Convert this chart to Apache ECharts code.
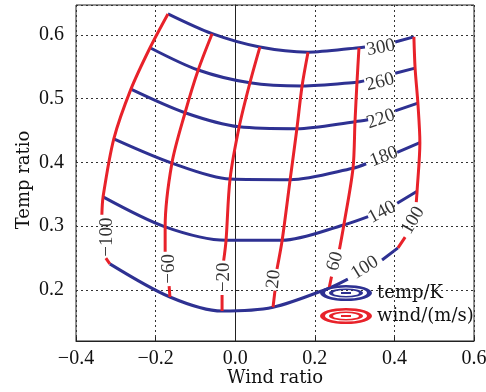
<!DOCTYPE html>
<html>
<head>
<meta charset="utf-8">
<script src="https://cdn.jsdelivr.net/npm/echarts@6/dist/echarts.min.js"></script>
<style>
  html, body { margin: 0; padding: 0; background: #fff; }
  #chart { width: 486px; height: 392px; }
</style>
</head>
<body>
<div id="chart"></div>
<script>
// temperature contours (K): [wind ratio, temp ratio], null = gap for the inline label
let temp300 = [[-0.169, 0.633], [-0.058, 0.602], [0.062, 0.581], [0.183, 0.573], [0.311, 0.580], [0.326, 0.581], null, [0.402, 0.589], [0.449, 0.597]];
let temp260 = [[-0.214, 0.580], [-0.093, 0.545], [0.037, 0.525], [0.168, 0.520], [0.306, 0.526], [0.324, 0.528], null, [0.402, 0.540], [0.452, 0.548]];
let temp220 = [[-0.262, 0.515], [-0.126, 0.478], [0.010, 0.456], [0.155, 0.453], [0.301, 0.464], [0.334, 0.467], null, [0.402, 0.481], [0.459, 0.493]];
let temp180 = [[-0.305, 0.437], [-0.159, 0.399], [-0.013, 0.374], [0.138, 0.373], [0.296, 0.391], [0.329, 0.398], null, [0.407, 0.416], [0.464, 0.431]];
let temp140 = [[-0.332, 0.346], [-0.176, 0.299], [-0.023, 0.278], [0.118, 0.278], [0.273, 0.302], [0.334, 0.315], null, [0.407, 0.336], [0.457, 0.355]];
let temp100 = [[-0.315, 0.241], [-0.164, 0.189], [-0.033, 0.167], [0.095, 0.173], [0.236, 0.203], [0.283, 0.217], null, [0.369, 0.247], [0.409, 0.266]];

// wind contours (m/s)
let windM100 = [[-0.169, 0.633], [-0.214, 0.580], [-0.262, 0.515], [-0.305, 0.437], [-0.332, 0.346], [-0.335, 0.318], null, [-0.325, 0.250], [-0.315, 0.241]];
let windM60 = [[-0.058, 0.602], [-0.093, 0.545], [-0.126, 0.478], [-0.159, 0.399], [-0.176, 0.299], [-0.176, 0.260], null, [-0.166, 0.206], [-0.164, 0.189]];
let windM20 = [[0.062, 0.581], [0.037, 0.525], [0.010, 0.456], [-0.013, 0.374], [-0.023, 0.278], [-0.029, 0.246], null, [-0.033, 0.192], [-0.033, 0.167]];
let windP20 = [[0.183, 0.573], [0.168, 0.520], [0.155, 0.453], [0.138, 0.373], [0.118, 0.278], [0.105, 0.233], null, [0.100, 0.199], [0.095, 0.173]];
let windP60 = [[0.311, 0.580], [0.306, 0.526], [0.301, 0.464], [0.296, 0.391], [0.273, 0.302], [0.262, 0.264], null, [0.242, 0.221], [0.236, 0.203]];
let windP100 = [[0.449, 0.597], [0.452, 0.548], [0.459, 0.493], [0.464, 0.431], [0.457, 0.355], [0.455, 0.338], null, [0.427, 0.283], [0.409, 0.266]];

// contour labels
let tempLevels = ["300", "260", "220", "180", "140", "100"];
let tempLabelAt = [[0.366, 0.580], [0.364, 0.526], [0.366, 0.468], [0.374, 0.409], [0.369, 0.322], [0.326, 0.235]];
let windLevels = ["−100", "−60", "−20", "20", "60", "100"];
let windLabelAt = [[-0.322, 0.283], [-0.166, 0.233], [-0.028, 0.220], [0.097, 0.217], [0.251, 0.245], [0.447, 0.309]];

let BLUE = "#2e3192";
let RED = "#e8222a";
let SERIF = "Liberation Serif";
let tempAngle = [11, 14, 19, 21, 28, 32];
let windAngle = [90, 90, 90, 84, 74, 60];

let ring = "path://M0,8 A26,8 0 1,1 52,8 A26,8 0 1,1 0,8 Z M5,8 A21,5.5 0 1,0 47,8 A21,5.5 0 1,0 5,8 Z " +
  "M9,8 A17,4.5 0 1,1 43,8 A17,4.5 0 1,1 9,8 Z M13,8 A13,3 0 1,0 39,8 A13,3 0 1,0 13,8 Z M21,7 L31,7 L31,9 L21,9 Z";

let chart = echarts.init(document.getElementById("chart"));

let series = [];
[temp300, temp260, temp220, temp180, temp140, temp100].forEach(function (pts) {
  series.push({
    name: "temp/K", type: "line", data: pts, smooth: 0.3, symbol: "none",
    connectNulls: false, lineStyle: { color: BLUE, width: 3 }, itemStyle: { color: BLUE }
  });
});
[windM100, windM60, windM20, windP20, windP60, windP100].forEach(function (pts) {
  series.push({
    name: "wind/(m/s)", type: "line", data: pts, smooth: 0.3, symbol: "none",
    connectNulls: false, lineStyle: { color: RED, width: 3 }, itemStyle: { color: RED }
  });
});

function labelData(levels, pos, angles) {
  return levels.map(function (t, i) {
    return { name: t, value: pos[i], label: { rotate: angles[i] } };
  });
}
series.push({
  name: "labels", type: "scatter", silent: true, z: 5,
  symbolSize: 1, itemStyle: { color: "rgba(0,0,0,0)" },
  data: labelData(tempLevels, tempLabelAt, tempAngle).concat(labelData(windLevels, windLabelAt, windAngle)),
  label: {
    show: true, position: "inside", formatter: "{b}",
    color: "#000", fontFamily: SERIF, fontSize: 19
  }
});

chart.setOption({
  animation: false,
  backgroundColor: "#fff",
  grid: {
    left: 76, right: 12, top: 5, bottom: 51,
    show: true, borderColor: "#222", borderWidth: 1,
    outerBoundsMode: "none"
  },
  legend: {
    orient: "vertical", left: 320, top: 284, padding: 0,
    itemWidth: 52, itemHeight: 16, itemGap: 5,
    itemStyle: { borderWidth: 0 },
    textStyle: { color: "#111", fontFamily: "DejaVu Serif", fontSize: 18 },
    data: [{ name: "temp/K", icon: ring }, { name: "wind/(m/s)", icon: ring }]
  },
  xAxis: {
    type: "value", min: -0.4, max: 0.6, interval: 0.2,
    name: "Wind ratio", nameLocation: "middle", nameGap: 28, nameMoveOverlap: false,
    nameTextStyle: { color: "#111", fontFamily: "DejaVu Serif", fontSize: 18 },
    axisLine: { lineStyle: { color: "#222", width: 1 } },
    axisTick: { show: true, inside: true, length: 4, lineStyle: { color: "#222" } },
    axisLabel: {
      color: "#111", fontFamily: SERIF, fontSize: 20, margin: 8,
      formatter: function (v) { return (v < 0 ? "−" : "") + Math.abs(v).toFixed(1); }
    },
    splitLine: { show: true, lineStyle: { color: "#333", type: [2, 3], width: 1 } }
  },
  yAxis: {
    type: "value", min: 0.12, max: 0.647, splitNumber: 5,
    name: "Temp ratio", nameLocation: "middle", nameGap: 43, nameMoveOverlap: false,
    nameTextStyle: { color: "#111", fontFamily: "DejaVu Serif", fontSize: 18, padding: [0, 14, 0, 0] },
    axisLine: { show: true, lineStyle: { color: "#222", width: 1 } },
    axisTick: { show: true, inside: true, length: 4, lineStyle: { color: "#222" } },
    axisLabel: {
      color: "#111", fontFamily: SERIF, fontSize: 20, margin: 12,
      showMinLabel: false, showMaxLabel: false,
      formatter: function (v) { return v.toFixed(1); }
    },
    splitLine: { show: true, lineStyle: { color: "#333", type: [2, 3], width: 1 } }
  },
  series: series
});
</script>
</body>
</html>
